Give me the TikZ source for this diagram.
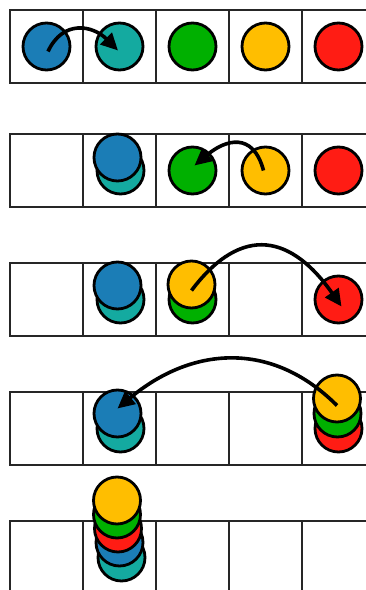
\documentclass[tikz,border=0pt]{standalone}
\usetikzlibrary{arrows.meta}
\definecolor{cblue}{RGB}{27,125,182}
\definecolor{cteal}{RGB}{20,170,160}
\definecolor{cgreen}{RGB}{0,176,0}
\definecolor{cyellow}{RGB}{255,190,0}
\definecolor{cred}{RGB}{255,28,20}
\begin{document}
\begin{tikzpicture}[x=1pt,y=1pt,
  cell/.style={draw=black!85, line width=2.2pt, minimum width=73pt, minimum height=73pt, inner sep=0pt, outer sep=0pt},
  disc/.style={circle, draw=black, line width=2.8pt, minimum size=47pt, inner sep=0pt},
  move/.style={line width=3.6pt, -{Triangle[length=17pt,width=16pt]}}]
\fill[white] (0,0) rectangle (366,590);
\useasboundingbox (0,0) rectangle (366,590);
\clip (0,0) rectangle (366,590);
\foreach \r/\y in {1/543.5,2/419.5,3/290.5,4/161.5,5/32.5}
  \foreach \c/\x in {1/46.5,2/119.5,3/192.5,4/265.5,5/338.5}
    \node[cell] (c\r\c) at (\x,\y) {};
% row 1
\node[disc, fill=cblue]   (d1b) at (c11.center) {};
\node[disc, fill=cteal]   (d1t) at (c12.center) {};
\node[disc, fill=cgreen]  (d1g) at (c13.center) {};
\node[disc, fill=cyellow] (d1y) at (c14.center) {};
\node[disc, fill=cred]    (d1r) at (c15.center) {};
% row 2
\node[disc, fill=cteal]   (d2t) at ([shift={(1,0)}]c22.center) {};
\node[disc, fill=cblue]   (d2b) at ([shift={(-2,13)}]c22.center) {};
\node[disc, fill=cgreen]  (d2g) at (c23.center) {};
\node[disc, fill=cyellow] (d2y) at (c24.center) {};
\node[disc, fill=cred]    (d2r) at (c25.center) {};
% row 3
\node[disc, fill=cteal]   (d3t) at ([shift={(1,0)}]c32.center) {};
\node[disc, fill=cblue]   (d3b) at ([shift={(-2,14)}]c32.center) {};
\node[disc, fill=cgreen]  (d3g) at (c33.center) {};
\node[disc, fill=cyellow] (d3y) at ([shift={(-1,15)}]c33.center) {};
\node[disc, fill=cred]    (d3r) at (c35.center) {};
% row 4
\node[disc, fill=cteal]   (d4t) at ([shift={(1,0)}]c42.center) {};
\node[disc, fill=cblue]   (d4b) at ([shift={(-2,15)}]c42.center) {};
\node[disc, fill=cred]    (d4r) at (c45.center) {};
\node[disc, fill=cgreen]  (d4g) at ([shift={(-1,15)}]c45.center) {};
\node[disc, fill=cyellow] (d4y) at ([shift={(-1.5,30)}]c45.center) {};
% row 5
\node[disc, fill=cteal]   (d5t) at ([shift={(2,0)}]c52.center) {};
\node[disc, fill=cblue]   (d5b) at ([shift={(0,15)}]c52.center) {};
\node[disc, fill=cred]    (d5r) at ([shift={(-1.5,29)}]c52.center) {};
\node[disc, fill=cgreen]  (d5g) at ([shift={(-2.5,43)}]c52.center) {};
\node[disc, fill=cyellow] (d5y) at ([shift={(-2.5,57)}]c52.center) {};
% moves
\draw[move] ([shift={(1.5,-5)}]d1b.center) to[out=65,in=135,looseness=1.3] ([shift={(-1.5,-4)}]d1t.center);
\draw[move] ([shift={(-2,0)}]d2y.center) to[out=105,in=40,looseness=1.5] ([shift={(2,5)}]d2g.center);
\draw[move] ([shift={(0,-6)}]d3y.center) to[out=53,in=125,looseness=1.45] ([shift={(3,-7)}]d3r.center);
\draw[move] ([shift={(0,-7)}]d4y.center) to[out=135,in=40,looseness=1.1] ([shift={(0,5)}]d4b.center);
\end{tikzpicture}
\end{document}
